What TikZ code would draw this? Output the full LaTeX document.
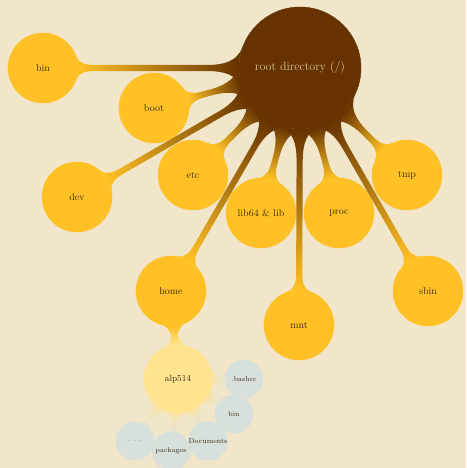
\documentclass[tikz,border=0pt]{standalone}
\usetikzlibrary{mindmap}
\definecolor{bg}{HTML}{F1E6C9}
\definecolor{rootc}{HTML}{663300}
\definecolor{gold}{HTML}{FFC125}
\definecolor{pale}{HTML}{FFE38F}
\definecolor{leafc}{HTML}{D8E0DC}
\definecolor{roottext}{HTML}{D8C49C}
\definecolor{darktext}{HTML}{3A2A10}
\begin{document}
\begin{tikzpicture}[x=1pt,y=-1pt,
  rootnode/.style={concept, circle, concept color=rootc, fill=rootc, minimum size=122pt, text width={}, inner sep=0pt, font=\large, text=roottext},
  lvlone/.style={concept, circle, concept color=gold, fill=gold, minimum size=70pt, text width={}, inner sep=0pt, font=\normalsize, text=darktext},
  homenode/.style={concept, circle, concept color=pale, fill=pale, minimum size=68pt, text width={}, inner sep=0pt, font=\small, text=darktext},
  leafnode/.style={concept, circle, concept color=leafc, fill=leafc, minimum size=38pt, text width={}, inner sep=0pt, font=\scriptsize, text=darktext},
  barA/.style={circle connection bar switch color=from (rootc) to (gold)},
  barB/.style={circle connection bar switch color=from (gold) to (pale)},
  barC/.style={circle connection bar switch color=from (pale!55!bg) to (leafc!45!bg)}]
\fill[bg] (0,0) rectangle (466,468);
\useasboundingbox (0,0) rectangle (466,468);
\node[rootnode] (root) at (300,68) {root directory (/)};
\node[lvlone] (bin) at (43,68) {bin};
\node[lvlone] (boot) at (154,108) {boot};
\node[lvlone] (dev) at (77,197) {dev};
\node[lvlone] (etc) at (193,175) {etc};
\node[lvlone] (lib) at (261,213) {lib64 \& lib};
\node[lvlone] (proc) at (339,213) {proc};
\node[lvlone] (tmp) at (407,175) {tmp};
\node[lvlone] (sbin) at (428,291) {sbin};
\node[lvlone] (mnt) at (299,325) {mnt};
\node[lvlone] (home) at (171,291) {home};
\node[homenode] (alp) at (178,379) {alp514};
\node[leafnode] (bashrc) at (244,379) {.bashrc};
\node[leafnode] (ubin) at (234,414) {bin};
\node[leafnode] (docs) at (208,441) {Documents};
\node[leafnode] (pkgs) at (171,451) {packages};
\node[leafnode] (dots) at (135,441) {. . .};
\path (root) to[barA] (bin);
\path (root) to[barA] (boot);
\path (root) to[barA] (dev);
\path (root) to[barA] (etc);
\path (root) to[barA] (lib);
\path (root) to[barA] (proc);
\path (root) to[barA] (tmp);
\path (root) to[barA] (sbin);
\path (root) to[barA] (mnt);
\path (root) to[barA] (home);
\path (home) to[barB] (alp);
\path (alp) to[barC] (bashrc);
\path (alp) to[barC] (ubin);
\path (alp) to[barC] (docs);
\path (alp) to[barC] (pkgs);
\path (alp) to[barC] (dots);
\end{tikzpicture}
\end{document}
